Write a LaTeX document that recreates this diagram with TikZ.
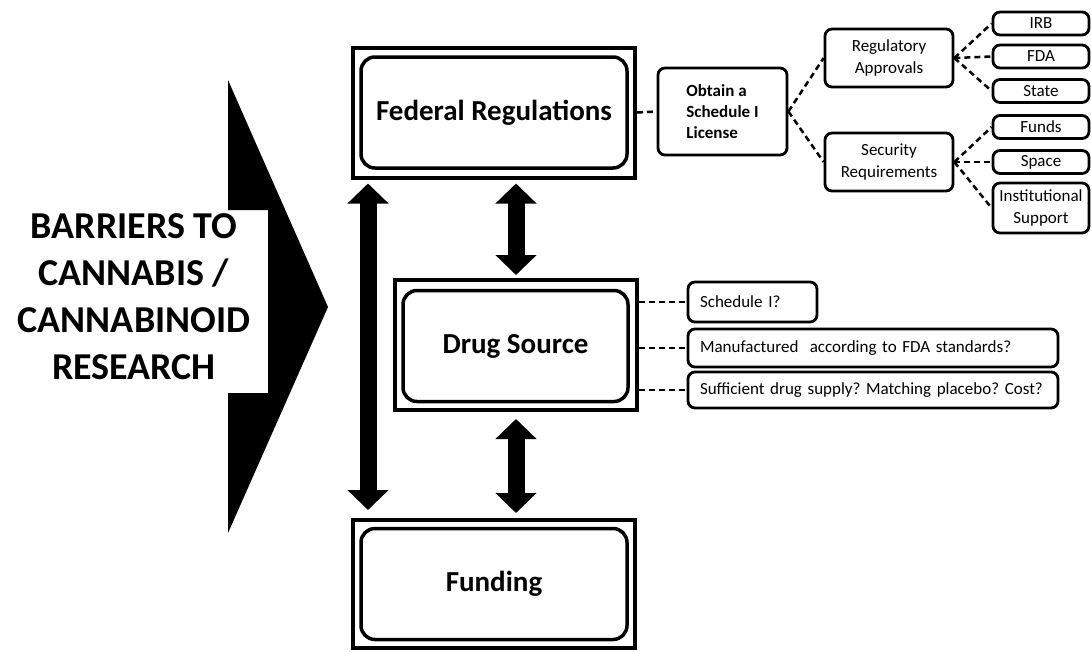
\documentclass[tikz,border=0pt]{standalone}
\usepackage{fontspec}
\setmainfont{Carlito}
\usetikzlibrary{arrows.meta, positioning, calc}

\begin{document}
\frenchspacing
\begin{tikzpicture}[x=1pt, y=-1pt,
  outerbox/.style={draw, line width=4pt, minimum width=282pt, minimum height=130pt, inner sep=0pt},
  innerbox/.style={draw, rounded corners=14pt, line width=3.5pt, minimum width=266pt, minimum height=111pt, font=\bfseries\fontsize{29}{34}\selectfont},
  smallbox/.style={draw, rounded corners=7pt, line width=2.8pt, align=center, inner sep=2pt, font=\fontsize{17}{22}\selectfont},
  leafbox/.style={smallbox, minimum width=96pt, minimum height=23pt},
  qbox/.style={draw, rounded corners=7pt, line width=2.8pt, inner xsep=12pt, inner ysep=0pt, align=left, font=\fontsize{17}{21}\selectfont},
  dashline/.style={line width=2.5pt, dash pattern=on 6pt off 4pt},
  bigarrow/.style={line width=17pt, {Triangle[width=40pt,length=20pt]}-{Triangle[width=40pt,length=20pt]}}
]
\useasboundingbox (0,0) rectangle (1091,651);

% Big chevron with the title
\fill (228,80) -- (328,307) -- (228,533) -- (228,393) -- (268,393) -- (268,210) -- (228,210) -- cycle;
\node[align=center, font=\bfseries\fontsize{38}{47}\selectfont] (barriers) at (134,297) {BARRIERS TO\\CANNABIS /\\CANNABINOID\\RESEARCH};

% Main boxes
\node[outerbox] (fedout) at (494,112.5) {};
\node[innerbox] (fed) at (494,112.5) {Federal Regulations};

\node[outerbox, minimum width=242pt] (drugout) at (516,345) {};
\node[innerbox, minimum width=225pt] (drug) at (515.5,346) {Drug Source};

\node[outerbox, minimum height=128pt] (fundout) at (494,584) {};
\node[innerbox] (fund) at (494,584) {Funding};

% Thick arrows between the boxes
\draw[bigarrow, shorten <=4pt, shorten >=8pt] ([xshift=17pt]fedout.south west) -- ([xshift=17pt]fundout.north west);
\draw[bigarrow, shorten <=4pt, shorten >=3pt] (drugout.north |- fedout.south) -- (drugout.north);
\draw[bigarrow, shorten <=7pt, shorten >=5pt] (drugout.south) -- (drugout.south |- fundout.north);

% Licence branch
\node[smallbox, align=left, font=\bfseries\fontsize{17}{21}\selectfont, minimum width=129pt, minimum height=87pt] (license) at (722.5,111.5) {Obtain a\\Schedule I\\License};
\node[smallbox, minimum width=128pt, minimum height=58pt] (regappr) at (889,58) {Regulatory\\Approvals};
\node[smallbox, minimum width=128pt, minimum height=58pt] (secreq) at (889,162) {Security\\Requirements};

\node[leafbox] (irb) at (1041,23.5) {IRB};
\node[leafbox] (fda) at (1041,56.5) {FDA};
\node[leafbox] (state) at (1041,91) {State};
\node[leafbox] (funds) at (1041,127) {Funds};
\node[leafbox] (space) at (1041,162) {Space};
\node[leafbox, minimum height=50pt] (instsup) at (1041,208) {Institutional\\Support};

\draw[dashline] (fedout.east) -- (license.west);
\draw[dashline] (license.east) -- (regappr.west);
\draw[dashline] (license.east) -- (secreq.west);
\foreach \leaf in {irb, fda, state}
  \draw[dashline] (regappr.east) -- (\leaf.west);
\foreach \leaf in {funds, space, instsup}
  \draw[dashline] (secreq.east) -- (\leaf.west);

% Drug source questions
\node[qbox, text width=105pt, minimum height=40pt] (qsched) at (752.5,302) {Schedule I?};
\node[qbox, text width=346pt, minimum height=38pt] (qmanuf) at (873,348) {Manufactured\ \ according to FDA standards?};
\node[qbox, text width=346pt, minimum height=36pt] (qsupply) at (873,390) {Sufficient drug supply? Matching placebo? Cost?};

\foreach \q in {qsched, qmanuf, qsupply}
  \draw[dashline] (\q.west -| drugout.east) -- (\q.west);
\end{tikzpicture}
\end{document}
